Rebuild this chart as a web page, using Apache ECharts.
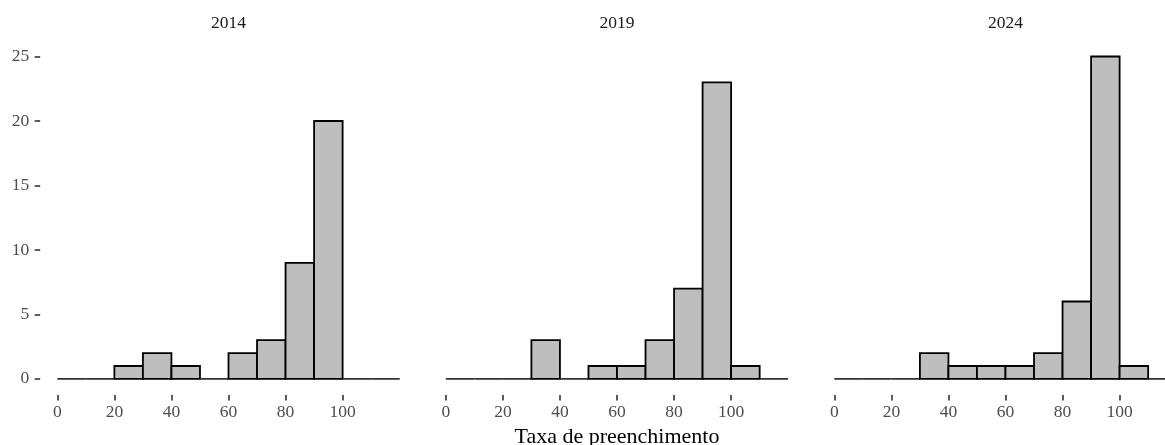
<!DOCTYPE html>
<html>
<head>
<meta charset="utf-8">
<script src="https://cdn.jsdelivr.net/npm/echarts@6/dist/echarts.min.js"></script>
<style>
  html, body { margin: 0; padding: 0; background: #ffffff; }
  #chart { width: 1165px; height: 445px; }
</style>
</head>
<body>
<div id="chart"></div>
<script>
// ---- data ----
const panelYears = ['2014', '2019', '2024'];
const binStarts = [0, 10, 20, 30, 40, 50, 60, 70, 80, 90, 100, 110];
const binWidth = 10;
const counts2014 = [0, 0, 1, 2, 1, 0, 2, 3, 9, 20, 0, 0];
const counts2019 = [0, 0, 0, 3, 0, 1, 1, 3, 7, 23, 1, 0];
const counts2024 = [0, 0, 0, 2, 1, 1, 1, 2, 6, 25, 1, 0];
const xTickValues = [0, 20, 40, 60, 80, 100];
const yTickValues = [0, 5, 10, 15, 20, 25];
const xAxisTitle = 'Taxa de preenchimento';

const allCounts = [counts2014, counts2019, counts2024];

// ---- layout ----
const FONT = '"Liberation Serif", "DejaVu Serif", serif';
const panelLeft0 = 40.2;
const panelStep = 388.5;
const panelWidth = 376.6;
const panelTop = 40.4;
const panelHeight = 354.6;

const grids = [], xAxes = [], yAxes = [], series = [], titles = [];

panelYears.forEach((yr, i) => {
  const left = panelLeft0 + i * panelStep;
  grids.push({
    left: left, top: panelTop, width: panelWidth, height: panelHeight,
    containLabel: false, outerBoundsMode: 'none'
  });
  titles.push({
    text: yr,
    left: left + panelWidth / 2,
    top: 14,
    textAlign: 'center',
    padding: 0,
    textStyle: { fontFamily: FONT, fontSize: 17.5, fontWeight: 'normal', color: '#1a1a1a' }
  });
  xAxes.push({
    type: 'value', gridIndex: i, min: -6, max: 126, position: 'bottom',
    axisLine: { show: false, onZero: false },
    splitLine: { show: false },
    axisTick: { show: true, length: 5.5, customValues: xTickValues, lineStyle: { color: '#333333', width: 1.6 } },
    axisLabel: { show: true, customValues: xTickValues, margin: 8.5, fontFamily: FONT, fontSize: 17.5, color: '#4d4d4d' },
    name: i === 1 ? xAxisTitle : '',
    nameLocation: 'middle',
    nameGap: 28,
    nameTextStyle: { fontFamily: FONT, fontSize: 22, color: '#000000' }
  });
  yAxes.push({
    type: 'value', gridIndex: i, min: -1.25, max: 26.25, position: 'left',
    axisLine: { show: false, onZero: false },
    splitLine: { show: false },
    axisTick: { show: i === 0, length: 5.5, customValues: yTickValues, lineStyle: { color: '#333333', width: 1.6 } },
    axisLabel: { show: i === 0, customValues: yTickValues, margin: 11, fontFamily: FONT, fontSize: 17.5, color: '#4d4d4d' }
  });
  const data = binStarts.map((b, k) => [b, b + binWidth, allCounts[i][k]]);
  series.push({
    type: 'custom',
    xAxisIndex: i,
    yAxisIndex: i,
    data: data,
    encode: { x: [0, 1], y: 2 },
    clip: false,
    renderItem: function (params, api) {
      const x0 = api.value(0), x1 = api.value(1), c = api.value(2);
      const p0 = api.coord([x0, c]);
      const p1 = api.coord([x1, 0]);
      return {
        type: 'rect',
        shape: { x: p0[0], y: p0[1], width: p1[0] - p0[0], height: p1[1] - p0[1] },
        style: { fill: '#bebebe', stroke: c === 0 ? '#333333' : '#000000', lineWidth: 1.8 }
      };
    }
  });
});

const chart = echarts.init(document.getElementById('chart'), null, { renderer: 'canvas' });
chart.setOption({
  animation: false,
  backgroundColor: '#ffffff',
  title: titles,
  grid: grids,
  xAxis: xAxes,
  yAxis: yAxes,
  series: series
});
</script>
</body>
</html>
